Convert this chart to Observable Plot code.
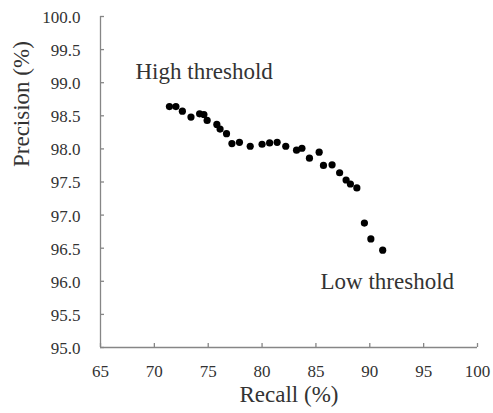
<!DOCTYPE html>
<html>
<head>
<meta charset="utf-8">
<script src="https://cdn.jsdelivr.net/npm/d3@7"></script>
<script src="https://cdn.jsdelivr.net/npm/@observablehq/plot@0.6"></script>
<style>
  html, body { margin: 0; padding: 0; background: #fff; }
  #chart svg { display: block; }
</style>
</head>
<body>
<div id="chart"></div>
<script>
const recall = [71.4, 72.0, 72.6, 73.4, 74.2, 74.6, 74.9, 75.8, 76.1, 76.7, 77.2, 77.9, 78.9, 80.0, 80.7, 81.4, 82.2, 83.2, 83.7, 84.4, 85.3, 85.7, 86.5, 87.2, 87.8, 88.2, 88.8, 89.5, 90.1, 91.2];
const precision = [98.64, 98.64, 98.57, 98.48, 98.53, 98.52, 98.43, 98.37, 98.30, 98.23, 98.08, 98.10, 98.04, 98.07, 98.09, 98.10, 98.04, 97.98, 98.01, 97.86, 97.95, 97.75, 97.76, 97.64, 97.53, 97.47, 97.41, 96.88, 96.64, 96.47];
const xTicks = [65, 70, 75, 80, 85, 90, 95, 100];
const yTicks = [95.0, 95.5, 96.0, 96.5, 97.0, 97.5, 98.0, 98.5, 99.0, 99.5, 100.0];
const annotationText = ["High threshold", "Low threshold"];
const annotationX = [68.25, 85.43];
const annotationY = [99.17, 96.0];
const xLabel = "Recall (%)";
const yLabel = "Precision (%)";

const points = recall.map((r, i) => ({recall: r, precision: precision[i]}));
const annotations = annotationText.map((t, i) => ({text: t, x: annotationX[i], y: annotationY[i]}));

const serif = "'Liberation Serif', 'Times New Roman', serif";
const textColor = "#333";
const axisColor = "#868686";

const chart = Plot.plot({
  width: 493,
  height: 413,
  marginLeft: 100,
  marginRight: 16,
  marginTop: 16,
  marginBottom: 66,
  style: {fontFamily: serif, background: "#fff", color: textColor},
  x: {domain: [65, 100]},
  y: {domain: [95, 100]},
  marks: [
    // tick marks only (pointing inward)
    Plot.axisX({ticks: xTicks, tickSize: -4, stroke: axisColor, strokeWidth: 1.3, fill: "none", label: null}),
    Plot.axisY({ticks: yTicks, tickSize: -4, stroke: axisColor, strokeWidth: 1.3, fill: "none", label: null}),
    // tick labels
    Plot.text(xTicks, {x: d => d, frameAnchor: "bottom", lineAnchor: "top", dy: 17, text: d => d3.format("d")(d), fontSize: 17, fontFamily: serif, fill: textColor}),
    Plot.text(yTicks, {y: d => d, frameAnchor: "left", textAnchor: "end", lineAnchor: "middle", dx: -20, dy: 1, text: d => d3.format(".1f")(d), fontSize: 17, fontFamily: serif, fill: textColor}),
    Plot.ruleX([65], {stroke: axisColor, strokeWidth: 1.3}),
    Plot.ruleY([95], {stroke: axisColor, strokeWidth: 1.3}),
    Plot.dot(points, {x: "recall", y: "precision", r: 3.6, fill: "#000", stroke: "none"}),
    Plot.text(annotations, {x: "x", y: "y", text: "text", textAnchor: "start", fontSize: 23, fontFamily: serif, fill: textColor}),
    Plot.text([xLabel], {frameAnchor: "bottom", lineAnchor: "middle", dy: 47, fontSize: 23, fontFamily: serif, fill: textColor}),
    Plot.text([yLabel], {frameAnchor: "left", lineAnchor: "middle", rotate: -90, dx: -79, dy: -15, fontSize: 23, fontFamily: serif, fill: textColor})
  ]
});
document.getElementById("chart").appendChild(chart);
</script>
</body>
</html>
